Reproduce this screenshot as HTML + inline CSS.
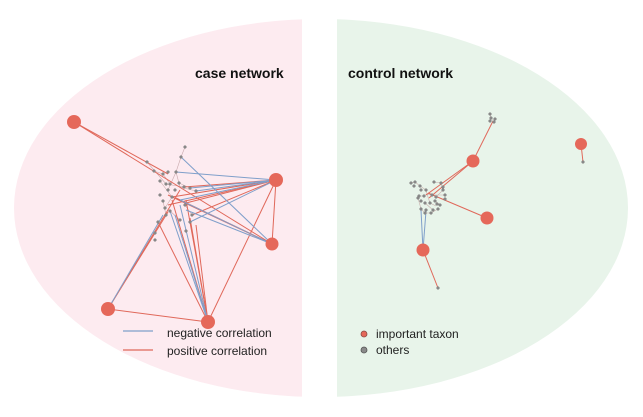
<!DOCTYPE html>
<html><head><meta charset="utf-8"><style>
html,body{margin:0;padding:0;background:#fff;}
svg{display:block;font-family:"Liberation Sans",Arial,sans-serif;}
</style></head><body>
<svg width="643" height="417" viewBox="0 0 643 417" xmlns="http://www.w3.org/2000/svg">
<defs>
<clipPath id="cl"><rect x="0" y="0" width="302" height="417"/></clipPath>
<clipPath id="cr"><rect x="337" y="0" width="306" height="417"/></clipPath>
</defs>
<ellipse cx="320" cy="208" rx="306" ry="189" fill="#fdebf0" clip-path="url(#cl)"/>
<ellipse cx="320" cy="208" rx="308" ry="189" fill="#e8f4ea" clip-path="url(#cr)"/>
<text x="195" y="78" font-size="14" font-weight="bold" fill="#111">case network</text>
<text x="348" y="78" font-size="14" font-weight="bold" fill="#111">control network</text>

<g stroke-width="1" fill="none">
<g stroke="#c9a9ad" stroke-width="0.6">
<path d="M185,147 L181,157 L176,172 L168,190 M147,162 L166,184 L184,187 M154,171 L163,174 L170,184 M176,172 L180,187 L196,191 M160,181 L172,197 L165,208 M179,183 L190,188 M163,201 L166,215 L158,222 M185,205 L192,215 M170,211 L180,220"/>
</g>
<g stroke="#e0685a">
<path d="M74,122 L168,174"/>
<path d="M74,122 L272,244"/>
<path d="M276,180 L184,187"/>
<path d="M276,180 L172,197"/>
<path d="M276,180 L192,215"/>
<path d="M276,180 L168,205"/>
<path d="M276,180 L186,203"/>
<path d="M276,180 L208,322"/>
<path d="M276,180 L272,244"/>
<path d="M272,244 L168,195"/>
<path d="M272,244 L190,205"/>
<path d="M272,244 L176,198"/>
<path d="M108,309 L180,190"/>
<path d="M108,309 L168,212"/>
<path d="M108,309 L208,322"/>
<path d="M208,322 L158,222"/>
<path d="M208,322 L186,200"/>
<path d="M208,322 L190,218"/>
<path d="M208,322 L196,225"/>
<path d="M208,322 L172,200"/>
</g>
<g stroke="#7f9fca">
<path d="M276,180 L176,172"/>
<path d="M276,180 L190,188"/>
<path d="M276,180 L196,191"/>
<path d="M276,180 L180,200"/>
<path d="M276,180 L190,222"/>
<path d="M272,244 L181,157"/>
<path d="M272,244 L180,200"/>
<path d="M272,244 L186,210"/>
<path d="M108,309 L163,215"/>
<path d="M208,322 L170,211"/>
<path d="M208,322 L180,205"/>
<path d="M208,322 L175,215"/>
</g>
<g stroke="#c9b0ad" stroke-width="0.6">
<path d="M411,183 L415,182 L420,186 L426,190 L427,194 L432,195 L445,195 M434,182 L441,183 L443,190 L436,197 M419,196 L424,196 L427,194 L430,203 L436,206 M418,198 L421,209 L425,213 L431,213 L438,209 M425,203 L433,210 M435,201 L440,205 M490,114 L491,118 L494,122 L495,119"/>
</g>
<g stroke="#e0685a">
<path d="M473,161 L493,121"/>
<path d="M473,161 L426,195"/>
<path d="M473,161 L429,198"/>
<path d="M487,218 L428,193"/>
<path d="M423,250 L438,288"/>
<path d="M581,144 L583,162"/>
</g>
<g stroke="#7f9fca">
<path d="M423,250 L421,210"/>
<path d="M423,250 L426,211"/>
</g>
</g>

<g fill="#8a8a8a" stroke="#777" stroke-width="0.4">
<circle cx="185" cy="147" r="1.4"/><circle cx="181" cy="157" r="1.4"/><circle cx="147" cy="162" r="1.4"/><circle cx="154" cy="171" r="1.4"/><circle cx="163" cy="174" r="1.4"/><circle cx="168" cy="172" r="1.4"/><circle cx="176" cy="172" r="1.4"/><circle cx="160" cy="181" r="1.4"/><circle cx="166" cy="184" r="1.4"/><circle cx="170" cy="184" r="1.4"/><circle cx="179" cy="183" r="1.4"/><circle cx="184" cy="187" r="1.4"/><circle cx="168" cy="190" r="1.4"/><circle cx="175" cy="190" r="1.4"/><circle cx="190" cy="188" r="1.4"/><circle cx="196" cy="191" r="1.4"/><circle cx="160" cy="195" r="1.4"/><circle cx="172" cy="197" r="1.4"/><circle cx="163" cy="201" r="1.4"/><circle cx="165" cy="208" r="1.4"/><circle cx="185" cy="205" r="1.4"/><circle cx="166" cy="215" r="1.4"/><circle cx="170" cy="211" r="1.4"/><circle cx="158" cy="222" r="1.4"/><circle cx="180" cy="220" r="1.4"/><circle cx="192" cy="215" r="1.4"/><circle cx="155" cy="233" r="1.4"/><circle cx="190" cy="222" r="1.4"/><circle cx="155" cy="240" r="1.4"/><circle cx="186" cy="231" r="1.4"/>
<circle cx="411" cy="183" r="1.4"/><circle cx="415" cy="182" r="1.4"/><circle cx="414" cy="186" r="1.4"/><circle cx="420" cy="186" r="1.4"/><circle cx="421" cy="190" r="1.4"/><circle cx="426" cy="190" r="1.4"/><circle cx="434" cy="182" r="1.4"/><circle cx="441" cy="183" r="1.4"/><circle cx="443" cy="187" r="1.4"/><circle cx="443" cy="190" r="1.4"/><circle cx="419" cy="196" r="1.4"/><circle cx="424" cy="196" r="1.4"/><circle cx="432" cy="195" r="1.4"/><circle cx="436" cy="197" r="1.4"/><circle cx="445" cy="195" r="1.4"/><circle cx="445" cy="199" r="1.4"/><circle cx="418" cy="198" r="1.4"/><circle cx="421" cy="201" r="1.4"/><circle cx="425" cy="203" r="1.4"/><circle cx="430" cy="203" r="1.4"/><circle cx="435" cy="201" r="1.4"/><circle cx="437" cy="204" r="1.4"/><circle cx="440" cy="205" r="1.4"/><circle cx="421" cy="209" r="1.4"/><circle cx="426" cy="210" r="1.4"/><circle cx="433" cy="210" r="1.4"/><circle cx="438" cy="209" r="1.4"/><circle cx="425" cy="213" r="1.4"/><circle cx="431" cy="213" r="1.4"/>
<circle cx="490" cy="114" r="1.4"/><circle cx="491" cy="118" r="1.4"/><circle cx="490" cy="121" r="1.4"/><circle cx="494" cy="122" r="1.4"/><circle cx="495" cy="119" r="1.4"/><circle cx="438" cy="288" r="1.4"/><circle cx="583" cy="162" r="1.4"/>
</g>

<g fill="#e5685a">
<circle cx="74" cy="122" r="7"/><circle cx="276" cy="180" r="7"/><circle cx="272" cy="244" r="6.5"/><circle cx="108" cy="309" r="7"/><circle cx="208" cy="322" r="7"/>
<circle cx="473" cy="161" r="6.5"/><circle cx="487" cy="218" r="6.5"/><circle cx="423" cy="250" r="6.5"/><circle cx="581" cy="144" r="6"/>
</g>

<line x1="123" y1="331" x2="153" y2="331" stroke="#7f9fca" stroke-width="1.3"/>
<line x1="123" y1="350" x2="153" y2="350" stroke="#e0685a" stroke-width="1.3"/>
<text x="167" y="337" font-size="12" fill="#222">negative correlation</text>
<text x="167" y="355" font-size="12" fill="#222">positive correlation</text>
<circle cx="364" cy="334" r="3" fill="#e5685a" stroke="#8a4a44" stroke-width="0.8"/>
<circle cx="364" cy="350" r="3" fill="#8a8a8a" stroke="#555" stroke-width="0.8"/>
<text x="376" y="338" font-size="12" fill="#222">important taxon</text>
<text x="376" y="354" font-size="12" fill="#222">others</text>
</svg>
</body></html>
